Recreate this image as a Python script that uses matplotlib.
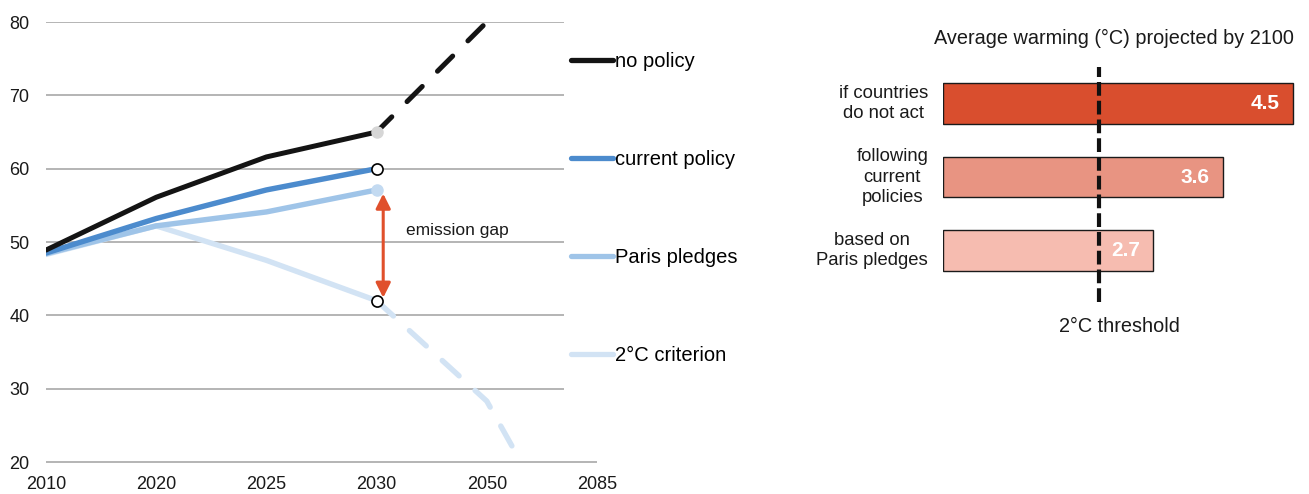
import numpy as np
import matplotlib.pyplot as plt
from matplotlib.lines import Line2D

plt.rcParams['font.family'] = ['Liberation Sans', 'DejaVu Sans']

## DATA

years = ["2010", "2020", "2025", "2030", "2050", "2085"]
yIdx = np.arange(len(years))

noPolicy = [48.9, 56.1, 61.6, 65.0]
noPolicyDash = [65.0, 80.0]
currentPolicy = [48.5, 53.2, 57.1, 60.0]
parisPledges = [48.4, 52.2, 54.1, 57.1]
twoDegree = [48.3, 52.2, 47.5, 42.0]
twoDegreeDash = [42.0, 28.3, 1.5]

gapTop = 56.6
gapBottom = 42.4

warmLabels = ["if countries\ndo not act", "following\ncurrent\npolicies", "based on\nParis pledges"]
warmValues = [4.5, 3.6, 2.7]
threshold = 2.0

## STYLE

cBlack = "#141414"
cCurrent = "#4c8bcd"
cParis = "#9fc4e8"
cTwo = "#d2e3f4"
barColors = ["#d94e2e", "#e89482", "#f6bcb0"]
arrowColor = "#e0502c"

fig = plt.figure(figsize=(13.09, 4.94), dpi=100)

## LEFT: emissions lines

ax = fig.add_axes([46 / 1309, 1 - 462 / 494, 551 / 1309, 440 / 494])
ax.set_xlim(0, 5)
ax.set_ylim(20, 80)

for v in range(30, 81, 10):
    ax.hlines(v, 0, 4.7, color="#a0a0a0", linewidth=1.1, zorder=1)
ax.hlines(20, 0, 5, color="#a0a0a0", linewidth=1.1, zorder=1, clip_on=False)

lw = 3.6
ax.plot(yIdx[:4], twoDegree, color=cTwo, linewidth=lw + 0.3, solid_capstyle="round", zorder=2)
ax.plot(yIdx[3:6], twoDegreeDash, color=cTwo, linewidth=lw + 0.3, dashes=(4.2, 4.0), dash_capstyle="round", zorder=2)
ax.plot(yIdx[:4], parisPledges, color=cParis, linewidth=lw + 0.3, solid_capstyle="round", zorder=3)
ax.plot(yIdx[:4], currentPolicy, color=cCurrent, linewidth=lw + 0.3, solid_capstyle="round", zorder=4)
ax.plot(yIdx[:4], noPolicy, color=cBlack, linewidth=lw, solid_capstyle="round", zorder=5)
ax.plot(yIdx[3:5], noPolicyDash, color=cBlack, linewidth=lw, dashes=(4.3, 4.3), dash_capstyle="round", zorder=5)

# 2030 markers
ax.plot(3, noPolicy[-1], "o", ms=8, mfc="#d6d6d6", mec="#d6d6d6", zorder=6)
ax.plot(3, currentPolicy[-1], "o", ms=8, mfc="white", mec="black", mew=1.2, zorder=6)
ax.plot(3, parisPledges[-1], "o", ms=8, mfc="#c3daf1", mec="#c3daf1", zorder=6)
ax.plot(3, twoDegree[-1], "o", ms=8, mfc="white", mec="black", mew=1.2, zorder=6)

ax.annotate("", xy=(3.06, gapTop), xytext=(3.06, gapBottom),
            arrowprops=dict(arrowstyle="<|-|>", color=arrowColor, lw=2.2,
                            mutation_scale=22, shrinkA=0, shrinkB=0), zorder=7)
ax.text(3.27, 51.6, "emission gap", fontsize=12.5, color="#1a1a1a", va="center")

ax.set_xticks(yIdx)
ax.set_xticklabels(years, fontsize=13)
ax.set_yticks(range(20, 81, 10))
ax.tick_params(axis="both", length=0, labelsize=13, colors="#1a1a1a")
ax.tick_params(axis="y", pad=12)
ax.tick_params(axis="x", pad=10)
for s in ax.spines.values():
    s.set_visible(False)

# legend
handles = [Line2D([0], [0], color=c, linewidth=3.8, solid_capstyle="round")
           for c in [cBlack, cCurrent, cParis, cTwo]]
names = ["no policy", "current policy", "Paris pledges", "2°C criterion"]
fig.legend(handles, names, loc="upper left", bbox_to_anchor=(571 / 1309, 1 - 52 / 494),
           frameon=False, fontsize=14.5, handlelength=2.1, handletextpad=0.1,
           labelspacing=3.92, borderaxespad=0, borderpad=0)

## RIGHT: warming bars

ax2 = fig.add_axes([943 / 1309, 1 - 302 / 494, (4.6 * 77.8) / 1309, 235 / 494])
ax2.set_xlim(0, 4.6)
ax2.set_ylim(2.70, -0.497)
pos = np.arange(len(warmValues))
ax2.barh(pos, warmValues, height=0.55, color=barColors, edgecolor="#1a1a1a", linewidth=1.0, zorder=2)
for p, v, lab in zip(pos, warmValues, warmLabels):
    ax2.text(v - 0.17, p, f"{v:.1f}", ha="right", va="center", color="white",
             fontsize=15, fontweight="bold", zorder=4)
    ax2.text(-0.19, p, lab, ha="right", va="center",
             multialignment="center", fontsize=13.3, linespacing=1.25, color="#1a1a1a")
ax2.axvline(threshold, color="#111111", linewidth=3.0, dashes=(3.3, 1.2), zorder=3)
ax2.axis("off")

fig.text(1114 / 1309, 1 - 38 / 494, "Average warming (°C) projected by 2100",
         ha="center", va="center", fontsize=14.3, color="#1a1a1a")
fig.text(1119 / 1309, 1 - 327 / 494, "2°C threshold",
         ha="center", va="center", fontsize=14.3, color="#1a1a1a")

fig.savefig("out.png", dpi=100)
